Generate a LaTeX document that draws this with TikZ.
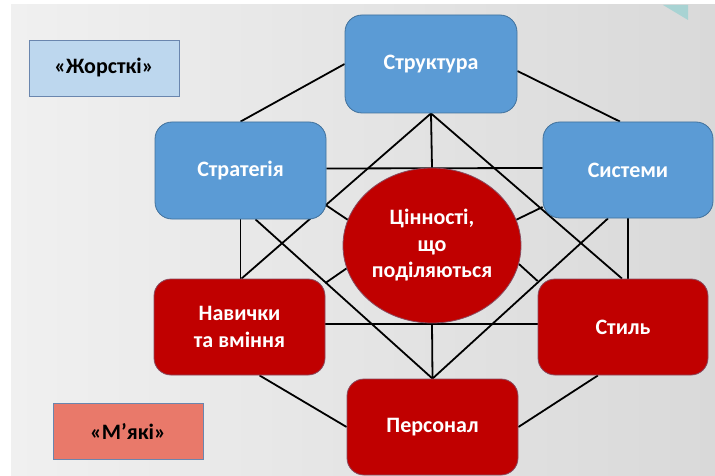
\documentclass[tikz,border=0pt]{standalone}
\usepackage{fontspec}
\setmainfont{Carlito}
\usetikzlibrary{shapes.geometric}
\definecolor{boxblue}{HTML}{5B9BD5}
\definecolor{blueline}{HTML}{41719C}
\definecolor{boxred}{HTML}{C00000}
\definecolor{redline}{HTML}{8A4A5E}
\definecolor{hardfill}{HTML}{BDD7EE}
\definecolor{softfill}{HTML}{E9796A}
\definecolor{tagline}{HTML}{6A86AE}
\definecolor{bgl}{HTML}{F0F0F0}
\definecolor{bgr}{HTML}{D9D9D9}
\definecolor{teal}{HTML}{A8D3D3}
\pgfdeclarelayer{bg}
\pgfdeclarelayer{lines}
\pgfsetlayers{bg,lines,main}
\tikzset{
  elem/.style={rounded corners=17pt, minimum width=171pt, minimum height=97pt,
    text=white, font=\fontsize{22}{27.5}\selectfont\bfseries, align=center, inner sep=0pt, line width=0.8pt},
  blueelem/.style={elem, fill=boxblue, draw=blueline},
  redelem/.style={elem, fill=boxred, draw=redline},
  tag/.style={minimum width=150pt, minimum height=56pt, draw=tagline, line width=0.8pt,
    font=\fontsize{22}{26}\selectfont\bfseries, text=black, inner sep=0pt},
  link/.style={line width=1.8pt, black}
}
\begin{document}
\begin{tikzpicture}[x=1pt,y=-1pt]
\useasboundingbox (0,0) rectangle (715,476);
\begin{pgfonlayer}{bg}
  \fill[white] (0,0) rectangle (715,476);
  \shade[left color=bgl, right color=bgr] (11,5) rectangle (715,476);
  \fill[teal] (663,5) -- (688,5) -- (688,20) -- cycle;
\end{pgfonlayer}

\node[tag, fill=hardfill] (hard) at (104,68) {«Жорсткі»};
\node[tag, fill=softfill] (soft) at (128,431) {«М’які»};

\node[blueelem, minimum width=172pt, minimum height=98pt] (str) at (431,64) {Структура};
\node[blueelem] (strat) at (240.5,170.5) {Стратегія};
\node[blueelem, minimum width=170pt, minimum height=96pt] (sys) at (628,170) {Системи};
\node[redelem, minimum height=96pt] (nav) at (239.5,327) {Навички\\та вміння};
\node[redelem, minimum width=170pt, minimum height=96pt] (sty) at (623,327) {Стиль};
\node[redelem, minimum height=96pt] (pers) at (432.5,427) {Персонал};
\node[ellipse, fill=boxred, draw=redline, line width=0.8pt, minimum width=178pt, minimum height=155pt,
  inner sep=0pt, text=white, font=\fontsize{22}{26.5}\selectfont\bfseries, align=center]
  (val) at (432,245.5) {Цінності,\\що\\поділяються};

\begin{pgfonlayer}{lines}
  % outer ring
  \draw[link] (strat.north) -- (str.west);
  \draw[link] ([yshift=-7pt]str.east) -- ([xshift=-8pt]sys.north);
  \draw[link] ([xshift=20pt]nav.south) -- (pers.west);
  \draw[link] ([xshift=-25pt]sty.south) -- (pers.east);
  \draw[link] (strat.south) -- (strat.south |- nav.north);
  \draw[link] (sys.south) -- (sys.south |- sty.north);
  % horizontals
  \draw[link] ([yshift=2pt]strat.east) -- ([yshift=2pt]sys.west);
  \draw[link] ([yshift=3pt]nav.east) -- ([yshift=3pt]sty.west);
  % from Структура
  \draw[link] (str.south) -- (val.north);
  \draw[link] (str.south) -- ([xshift=2pt]nav.north);
  \draw[link] (str.south) -- ([xshift=-1pt]sty.north);
  % from Персонал
  \draw[link] (pers.north) -- (val.south);
  \draw[link] ([xshift=15pt]strat.south) -- (pers.north);
  \draw[link] ([xshift=-20pt]sys.south) -- (pers.north);
  % short links to the centre
  \draw[link] ([yshift=-35pt]strat.east) -- (val.163);
  \draw[link] ([yshift=44pt]nav.east) -- (val.195);
  \draw[link] ([yshift=-37pt]sys.west) -- (val.17);
  \draw[link] ([yshift=46pt]sty.west) -- (val.-12);
\end{pgfonlayer}
\end{tikzpicture}
\end{document}
